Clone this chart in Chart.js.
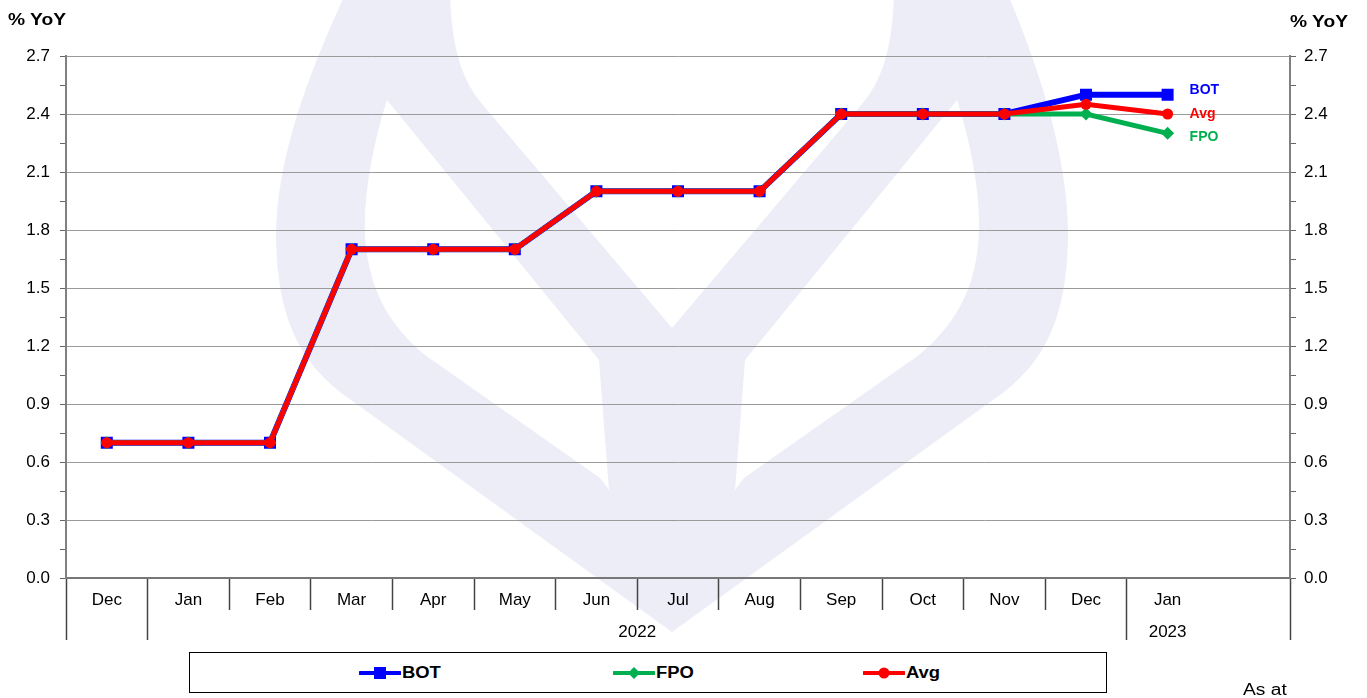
<!DOCTYPE html>
<html>
<head>
<meta charset="utf-8">
<script src="https://cdn.jsdelivr.net/npm/chart.js@4.4.0/dist/chart.umd.min.js"></script>
<style>
    html, body { margin: 0; padding: 0; background: #fff; overflow: hidden; }
    #wrap { position: relative; width: 1367px; height: 698px; font-family: "Liberation Sans", Arial, sans-serif; }
    #chart { position: absolute; left: 0; top: 0; }
    .wide { display: inline-block; transform: scaleX(1.2); transform-origin: 0 50%; white-space: nowrap; }
    .unit { position: absolute; font-weight: bold; font-size: 16px; color: #000; }
    #legend { position: absolute; left: 189px; top: 652px; width: 916px; height: 39px; border: 1px solid #000; background: #fff; }
    .item { position: absolute; top: 10px; height: 20px; display: flex; align-items: center; font-weight: bold; font-size: 16px; }
    .item svg { display: block; }
    #asat { position: absolute; left: 1243px; top: 681px; font-size: 16px; }
</style>
</head>
<body>
<div id="wrap">
    <canvas id="chart" width="1367" height="698"></canvas>
    <div class="unit" style="left:8px; top:11px;"><span class="wide">% YoY</span></div>
    <div class="unit" style="left:1290px; top:13px;"><span class="wide">% YoY</span></div>
    <div id="legend"></div>
    <div id="asat"><span class="wide">As at</span></div>
</div>
<script>
// categories (last slot is an empty spacer, as in the original)
const months = ['Dec', 'Jan', 'Feb', 'Mar', 'Apr', 'May', 'Jun', 'Jul', 'Aug', 'Sep', 'Oct', 'Nov', 'Dec', 'Jan', ''];
const yearLabels = ['2022', '2023'];
const yearCenters = [6.5, 13];
const yearBounds = [-0.5, 0.5, 12.5, 14.5];

// series, % YoY
const botData = [0.7, 0.7, 0.7, 1.7, 1.7, 1.7, 2.0, 2.0, 2.0, 2.4, 2.4, 2.4, 2.5, 2.5, null];
const fpoData = [0.7, 0.7, 0.7, 1.7, 1.7, 1.7, 2.0, 2.0, 2.0, 2.4, 2.4, 2.4, 2.4, 2.3, null];
const avgData = [0.7, 0.7, 0.7, 1.7, 1.7, 1.7, 2.0, 2.0, 2.0, 2.4, 2.4, 2.4, 2.45, 2.4, null];

const yMin = 0;
const yMax = 2.7;

const blue = '#0000FF';
const green = '#00B050';
const red = '#FF0000';
const lavender = 'rgb(236, 237, 247)';
const fontFamily = '"Liberation Sans", Arial, sans-serif';

// minor ticks every 0.15, labels on every 0.3
const yTicks = [];
for (let i = 0; i <= 18; i++) yTicks.push(Math.round(i * 15) / 100);
const isMajor = v => Math.round(v * 100) % 30 === 0;

// faint logo behind the plot
const watermark = {
    id: 'watermark',
    beforeDraw(chart) {
        const c = chart.ctx;
        c.save();
        c.fillStyle = '#fff';
        c.fillRect(0, 0, chart.width, chart.height);

        c.fillStyle = lavender;
        c.beginPath();
        c.moveTo(345, -5);
        c.bezierCurveTo(310, 70, 275, 160, 276, 240);
        c.bezierCurveTo(278, 320, 300, 360, 340, 392);
        c.lineTo(672, 632);
        c.lineTo(1004, 392);
        c.bezierCurveTo(1044, 360, 1066, 320, 1068, 240);
        c.bezierCurveTo(1069, 160, 1040, 70, 1008, -5);
        c.closePath();
        c.fill();

        c.fillStyle = '#fff';
        c.beginPath();
        c.moveTo(450, -5);
        c.bezierCurveTo(452, 50, 462, 80, 482, 104);
        c.lineTo(672, 328);
        c.lineTo(862, 104);
        c.bezierCurveTo(882, 80, 892, 50, 894, -5);
        c.closePath();
        c.fill();

        const gap = () => {
            c.beginPath();
            c.moveTo(387, 100);
            c.bezierCurveTo(368, 160, 360, 220, 368, 260);
            c.bezierCurveTo(375, 300, 395, 330, 425, 355);
            c.lineTo(600, 478);
            c.lineTo(609, 490);
            c.lineTo(599, 360);
            c.closePath();
            c.fill();
        };
        gap();
        c.translate(1344, 0);
        c.scale(-1, 1);
        gap();
        c.restore();
    }
};

// series names written next to the last point
const endLabels = {
    id: 'endLabels',
    afterDatasetsDraw(chart) {
        const c = chart.ctx;
        const nudge = { BOT: -5, Avg: 0, FPO: 4 };
        c.save();
        c.font = 'bold 14px ' + fontFamily;
        c.textAlign = 'left';
        c.textBaseline = 'middle';
        chart.data.datasets.forEach((ds, i) => {
            let last = ds.data.length - 1;
            while (last > 0 && ds.data[last] == null) last--;
            const pt = chart.getDatasetMeta(i).data[last];
            c.fillStyle = ds.borderColor;
            c.fillText(ds.label, pt.x + 22, pt.y + nudge[ds.label]);
        });
        c.restore();
    }
};

const yTickOpts = (padding) => ({
    autoSkip: false,
    padding: padding,
    color: '#000',
    font: { family: fontFamily, size: 17 },
    callback: v => isMajor(v) ? v.toFixed(1) : ''
});

const ctx = document.getElementById('chart').getContext('2d');

const chart = new Chart(ctx, {
    type: 'line',
    data: {
        labels: months,
        datasets: [{
            label: 'BOT',
            data: botData,
            borderColor: blue,
            backgroundColor: blue,
            borderWidth: 6,
            pointStyle: 'rect',
            pointRadius: 8.5,
            pointBorderWidth: 0,
            order: 2
        }, {
            label: 'FPO',
            data: fpoData,
            borderColor: green,
            backgroundColor: green,
            borderWidth: 5,
            pointStyle: 'rectRot',
            pointRadius: 6.5,
            pointBorderWidth: 0,
            order: 1
        }, {
            label: 'Avg',
            data: avgData,
            borderColor: red,
            backgroundColor: red,
            borderWidth: 5,
            pointStyle: 'circle',
            pointRadius: 5.5,
            pointBorderWidth: 0,
            order: 0
        }]
    },
    options: {
        responsive: false,
        animation: false,
        devicePixelRatio: 1,
        layout: { padding: { top: 56, bottom: 58, left: 0, right: 0 } },
        elements: { line: { tension: 0 } },
        plugins: {
            legend: { display: false },
            tooltip: { enabled: false }
        },
        scales: {
            x: {
                type: 'category',
                offset: true,
                afterFit: s => { s.height = 32; },
                ticks: {
                    autoSkip: false,
                    maxRotation: 0,
                    padding: -20,
                    color: '#000',
                    font: { family: fontFamily, size: 17 }
                },
                grid: {
                    offset: true,
                    drawOnChartArea: false,
                    tickLength: 32,
                    tickWidth: 1.5,
                    tickColor: c => c.index === 14 ? 'rgba(0,0,0,0)' : '#444'
                },
                border: { color: '#777', width: 2 }
            },
            x2: {
                type: 'linear',
                position: 'bottom',
                weight: 1,
                min: -0.5,
                max: 14.5,
                afterBuildTicks: s => {
                    s.ticks = yearBounds.concat(yearCenters).sort((a, b) => a - b).map(v => ({ value: v }));
                },
                afterFit: s => { s.height = 30; },
                ticks: {
                    autoSkip: false,
                    maxRotation: 0,
                    padding: -18,
                    color: '#000',
                    font: { family: fontFamily, size: 17 },
                    callback: v => {
                        const k = yearCenters.indexOf(v);
                        return k >= 0 ? yearLabels[k] : '';
                    }
                },
                grid: {
                    drawOnChartArea: false,
                    tickLength: 30,
                    tickWidth: 1.5,
                    tickColor: c => (c.tick && yearBounds.includes(c.tick.value)) ? '#444' : 'rgba(0,0,0,0)'
                },
                border: { display: false }
            },
            y: {
                position: 'left',
                min: yMin,
                max: yMax,
                afterBuildTicks: s => { s.ticks = yTicks.map(v => ({ value: v })); },
                afterFit: s => { s.width = 66; },
                ticks: yTickOpts(10),
                grid: {
                    color: c => (c.tick && isMajor(c.tick.value)) ? '#9a9a9a' : 'rgba(0,0,0,0)',
                    tickColor: '#666',
                    tickLength: 6,
                    lineWidth: 1
                },
                border: { color: '#808080', width: 2 }
            },
            y2: {
                position: 'right',
                min: yMin,
                max: yMax,
                afterBuildTicks: s => { s.ticks = yTicks.map(v => ({ value: v })); },
                afterFit: s => { s.width = 77; },
                ticks: yTickOpts(8),
                grid: {
                    drawOnChartArea: false,
                    tickColor: '#666',
                    tickLength: 6
                },
                border: { color: '#808080', width: 2 }
            }
        }
    },
    plugins: [watermark, endLabels]
});

// legend in a framed box under the chart, like the original
function markerSvg(ds) {
    let m = '';
    if (ds.pointStyle === 'rect') {
        m = `<rect x="15" y="2" width="12" height="12" fill="${ds.borderColor}"/>`;
    } else if (ds.pointStyle === 'rectRot') {
        m = `<polygon points="21,2 27,8 21,14 15,8" fill="${ds.borderColor}"/>`;
    } else {
        m = `<circle cx="21" cy="8" r="5.5" fill="${ds.borderColor}"/>`;
    }
    return `<svg width="42" height="16"><line x1="1" y1="8" x2="41" y2="8" stroke="${ds.borderColor}" stroke-width="4" stroke-linecap="round"/>${m}</svg>`;
}

const legendLeft = [169, 423, 673];
const legendBox = document.getElementById('legend');
chart.data.datasets.forEach((ds, i) => {
    const div = document.createElement('div');
    div.className = 'item';
    div.style.left = legendLeft[i] + 'px';
    div.innerHTML = markerSvg(ds) + '<span class="wide" style="margin-left:1px; transform:scaleX(1.15)">' + ds.label + '</span>';
    legendBox.appendChild(div);
});
</script>
</body>
</html>
